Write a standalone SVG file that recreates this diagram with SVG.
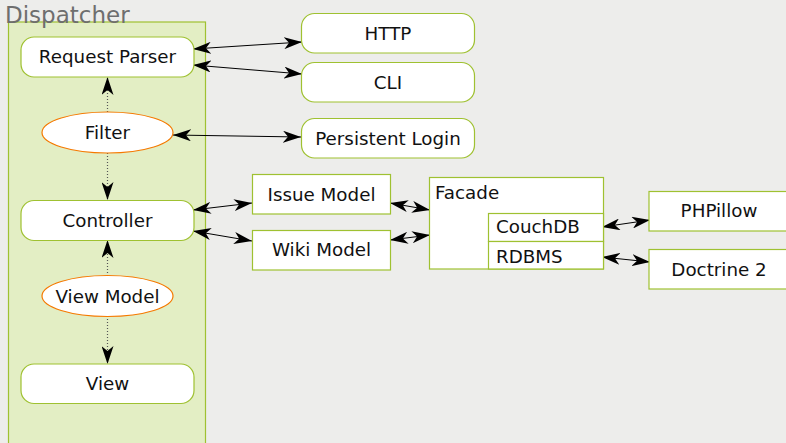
<svg xmlns="http://www.w3.org/2000/svg" width="786" height="443" viewBox="0 0 786 443">
<defs>
<marker id="ah" viewBox="0 0 18 12" refX="18" refY="6" markerWidth="18" markerHeight="12" markerUnits="userSpaceOnUse" orient="auto-start-reverse">
<path d="M0,0 L18,6 L0,12 L5,6 z" fill="#000"/>
</marker>
</defs>
<style>
text{font-family:"DejaVu Sans",sans-serif;font-size:18.3px;fill:#111}
.c{text-anchor:middle}
.g{fill:#fff;stroke:#9fc131;stroke-width:1.2}
.o{fill:#fff;stroke:#f57900;stroke-width:1.2}
.l{stroke:#000;stroke-width:1;fill:none;marker-start:url(#ah);marker-end:url(#ah)}
.d{stroke:#555;stroke-width:1.2;stroke-dasharray:1,2;fill:none;marker-end:url(#ah)}
</style>
<rect x="0" y="0" width="786" height="443" fill="#ededeb"/>
<g id="dispatcher">
<rect x="8.5" y="22" width="197" height="440" fill="#e3eec4" stroke="#9fc131" stroke-width="1.2"/>
<text x="5" y="23" style="font-size:23px;fill:#6e6e6e">Dispatcher</text>
</g>
<g id="connectors">
<line class="d" x1="107.5" y1="112" x2="107.5" y2="77"/>
<line class="d" x1="107.5" y1="153" x2="107.5" y2="200"/>
<line class="d" x1="107.5" y1="276" x2="107.5" y2="240"/>
<line class="d" x1="107.5" y1="316" x2="107.5" y2="364"/>
<line class="l" x1="193" y1="49" x2="302" y2="42"/>
<line class="l" x1="193" y1="65" x2="302" y2="74"/>
<line class="l" x1="173" y1="135" x2="301" y2="137"/>
<line class="l" x1="193" y1="210" x2="252" y2="203"/>
<line class="l" x1="193" y1="231" x2="252" y2="241"/>
<line class="l" x1="390" y1="203" x2="430" y2="210"/>
<line class="l" x1="390" y1="240" x2="430" y2="235"/>
<line class="l" x1="602" y1="227" x2="650" y2="220"/>
<line class="l" x1="602" y1="257" x2="650" y2="262"/>
</g>
<g id="request-parser"><rect class="g" x="21" y="37" width="173" height="40" rx="13"/><text class="c" x="107.5" y="63">Request Parser</text></g>
<g id="filter"><ellipse class="o" cx="107.5" cy="132.5" rx="65.5" ry="20.5"/><text class="c" x="107.5" y="139">Filter</text></g>
<g id="controller"><rect class="g" x="21" y="200.5" width="173" height="40" rx="13"/><text class="c" x="107.5" y="227">Controller</text></g>
<g id="view-model"><ellipse class="o" cx="107.5" cy="296" rx="65.5" ry="20.5"/><text class="c" x="107.5" y="303">View Model</text></g>
<g id="view"><rect class="g" x="21" y="364" width="173" height="39.5" rx="13"/><text class="c" x="107.5" y="390">View</text></g>
<g id="http"><rect class="g" x="301.5" y="13.5" width="173" height="39.5" rx="13"/><text class="c" x="388" y="40">HTTP</text></g>
<g id="cli"><rect class="g" x="301.5" y="62.5" width="173" height="39.5" rx="13"/><text class="c" x="388" y="89">CLI</text></g>
<g id="persistent-login"><rect class="g" x="301.5" y="118.5" width="173" height="39.5" rx="13"/><text class="c" x="388" y="145">Persistent Login</text></g>
<g id="issue-model"><rect class="g" x="252.5" y="174.5" width="138" height="39.5"/><text class="c" x="321.5" y="201">Issue Model</text></g>
<g id="wiki-model"><rect class="g" x="252.5" y="230.5" width="138" height="39.5"/><text class="c" x="321.5" y="256">Wiki Model</text></g>
<g id="facade">
<rect class="g" x="429.5" y="177.5" width="174" height="91.5"/>
<text x="435" y="199">Facade</text>
<rect class="g" x="488.5" y="213.5" width="115" height="28"/>
<text x="496" y="233">CouchDB</text>
<rect class="g" x="488.5" y="241.5" width="115" height="27.5"/>
<text x="496" y="263">RDBMS</text>
</g>
<g id="phpillow"><rect class="g" x="649" y="191.5" width="140" height="39.5"/><text class="c" x="719" y="217">PHPillow</text></g>
<g id="doctrine"><rect class="g" x="649" y="249.5" width="140" height="39.5"/><text class="c" x="719" y="276">Doctrine 2</text></g>
</svg>
